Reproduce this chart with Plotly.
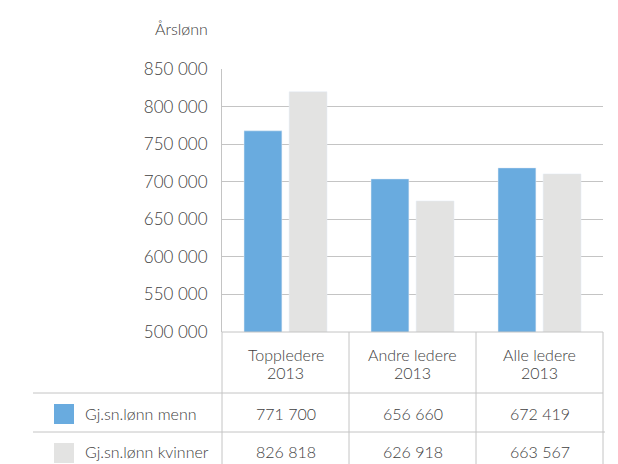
import plotly.graph_objects as go

# data
categories = ['Toppledere', 'Andre ledere', 'Alle ledere']
year = '2013'
men = [767700, 703700, 718400]
women = [819700, 674400, 710400]
men_label = 'Gj.sn.lønn menn'
women_label = 'Gj.sn.lønn kvinner'
men_table = ['771 700', '656 660', '672 419']
women_table = ['826 818', '626 918', '663 567']

BLUE = '#69abdf'
GREY = '#e3e3e2'
LINE = '#c4c4c4'
TXT = '#404040'
FONT = 'Lato'

W, H = 618, 464
L, R, T, B = 222, 15, 69, 132
PH = H - T - B


def py(y):
    # pixel row -> paper y
    return (H - B - y) / PH


def px(x):
    return (x - L) / (W - L - R)


def note(text, x, y, xref='paper', xanchor='center'):
    fig.add_annotation(x=x, xref=xref, y=py(y), yref='paper', text=text,
                       xanchor=xanchor, yanchor='middle', showarrow=False,
                       font=dict(size=16, color=TXT))


fig = go.Figure()
fig.add_trace(go.Bar(x=categories, y=men, name=men_label, marker_color=BLUE))
fig.add_trace(go.Bar(x=categories, y=women, name=women_label, marker_color=GREY))

fig.update_layout(
    width=W, height=H,
    margin=dict(l=L, r=R, t=T, b=B),
    paper_bgcolor='white', plot_bgcolor='white',
    font=dict(family=FONT, size=16, color=TXT, weight=300),
    separators=', ',
    showlegend=False,
    barmode='group',
    bargap=0.29,
    bargroupgap=0.16,
)
fig.update_yaxes(range=[500000, 850000], dtick=50000, tickformat=',d',
                 showgrid=True, gridcolor=LINE, gridwidth=1,
                 showline=True, linecolor=LINE, linewidth=1,
                 zeroline=False, ticks='', ticklabelstandoff=10,
                 tickfont=dict(size=17, color=TXT))
fig.update_xaxes(showticklabels=False, showgrid=False, zeroline=False,
                 showline=False, range=[-0.5, 2.5])

# table lines
lines = [
    (222, 332, 222, H + 5),
    (349, 332, 349, H + 5),
    (476, 332, 476, H + 5),
    (603, 332, 603, H + 5),
    (222, 332, 603, 332),
    (33, 393, 603, 393),
    (33, 432, 605, 432),
]
for x0, y0, x1, y1 in lines:
    fig.add_shape(type='line', xref='paper', yref='paper',
                  x0=px(x0), y0=py(y0), x1=px(x1), y1=py(y1),
                  line=dict(color=LINE, width=1))

# legend swatches
for color, top in [(BLUE, 404), (GREY, 443)]:
    fig.add_shape(type='rect', xref='paper', yref='paper',
                  x0=px(54), x1=px(74), y0=py(top), y1=py(top + 20),
                  fillcolor=color, line=dict(width=0))

# header cells
for cat in categories:
    note(cat, cat, 354, xref='x')
    note(year, cat, 372, xref='x')

# value rows
for row_y, label, values in [(413, men_label, men_table), (451, women_label, women_table)]:
    note(label, px(83), row_y, xanchor='left')
    for cat, v in zip(categories, values):
        note(v, cat, row_y, xref='x')

note('Årslønn', px(153), 28, xanchor='left')

fig.write_html('out.html', config={'displayModeBar': False},
               post_script="document.body.style.margin='0';")
